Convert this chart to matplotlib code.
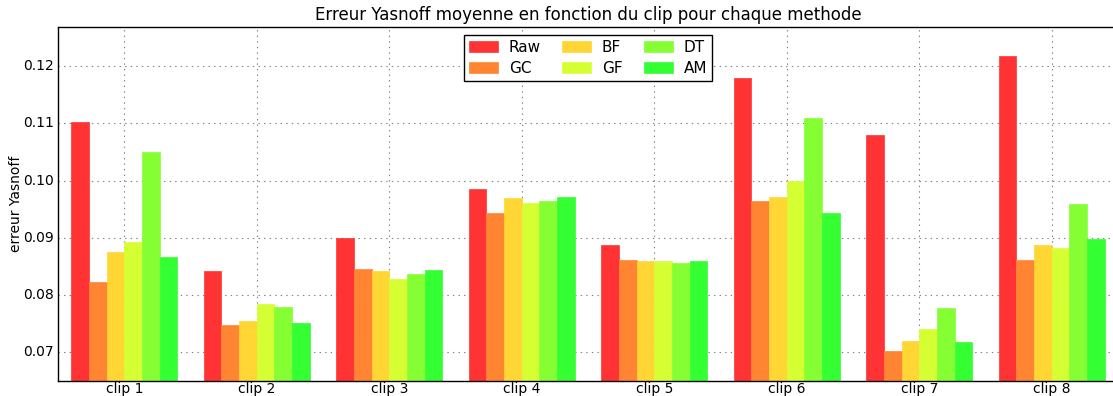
import numpy as np
import matplotlib
matplotlib.use('Agg')
import matplotlib.pyplot as plt

plt.style.use('classic')

clips = ['clip 1', 'clip 2', 'clip 3', 'clip 4', 'clip 5', 'clip 6', 'clip 7', 'clip 8']
methodes = ['Raw', 'GC', 'BF', 'GF', 'DT', 'AM']
couleurs = ['#ff3333', '#ff8533', '#ffd633', '#d6ff33', '#85ff33', '#33ff33']

raw = [0.1102, 0.0842, 0.0900, 0.0986, 0.0887, 0.1179, 0.1079, 0.1218]
gc = [0.0822, 0.0748, 0.0846, 0.0944, 0.0862, 0.0965, 0.0702, 0.0862]
bf = [0.0875, 0.0754, 0.0842, 0.0969, 0.0859, 0.0972, 0.0719, 0.0888]
gf = [0.0893, 0.0784, 0.0828, 0.0961, 0.0860, 0.1000, 0.0741, 0.0883]
dt = [0.1049, 0.0779, 0.0837, 0.0965, 0.0856, 0.1109, 0.0778, 0.0959]
am = [0.0866, 0.0751, 0.0843, 0.0971, 0.0860, 0.0944, 0.0718, 0.0898]
erreurs = [raw, gc, bf, gf, dt, am]

fig = plt.figure(figsize=(11.13, 3.96), dpi=100, facecolor='white')
ax = fig.add_axes([58 / 1113, 15 / 396, 1060 / 1113, 354 / 396])

x = np.arange(len(clips))
w = 0.8 / len(methodes)
for k in range(len(methodes)):
    ax.bar(x - 0.4 + k * w, erreurs[k], w, align='edge', color=couleurs[k],
           edgecolor=couleurs[k], linewidth=0.5, label=methodes[k])

ax.set_xlim(-0.5, 7.5)
ax.set_ylim(0.065, 0.1268)
ax.set_xticks(x)
ax.set_xticklabels(clips, fontsize=10)
ax.set_yticks([0.07, 0.08, 0.09, 0.10, 0.11, 0.12])
ax.set_yticklabels(['0.07', '0.08', '0.09', '0.10', '0.11', '0.12'], fontsize=10)
ax.tick_params(axis='y', length=0, pad=3)
ax.tick_params(axis='x', length=0, pad=1)
ax.grid(True, color='gray', linestyle=':', linewidth=0.8)
ax.set_axisbelow(True)
ax.set_ylabel('erreur Yasnoff', fontsize=10, labelpad=0)
ax.set_title('Erreur Yasnoff moyenne en fonction du clip pour chaque methode', fontsize=12, y=1.0)

leg = ax.legend(loc='upper center', ncol=3, fontsize=11, frameon=True, fancybox=False,
                bbox_to_anchor=(0.5, 1.0), borderaxespad=0.5, handlelength=1.9,
                handleheight=0.75, handletextpad=0.7, columnspacing=1.4,
                borderpad=0.35, labelspacing=0.4)
leg.get_frame().set_edgecolor('black')

fig.savefig('out.png', dpi=100, facecolor='white')
